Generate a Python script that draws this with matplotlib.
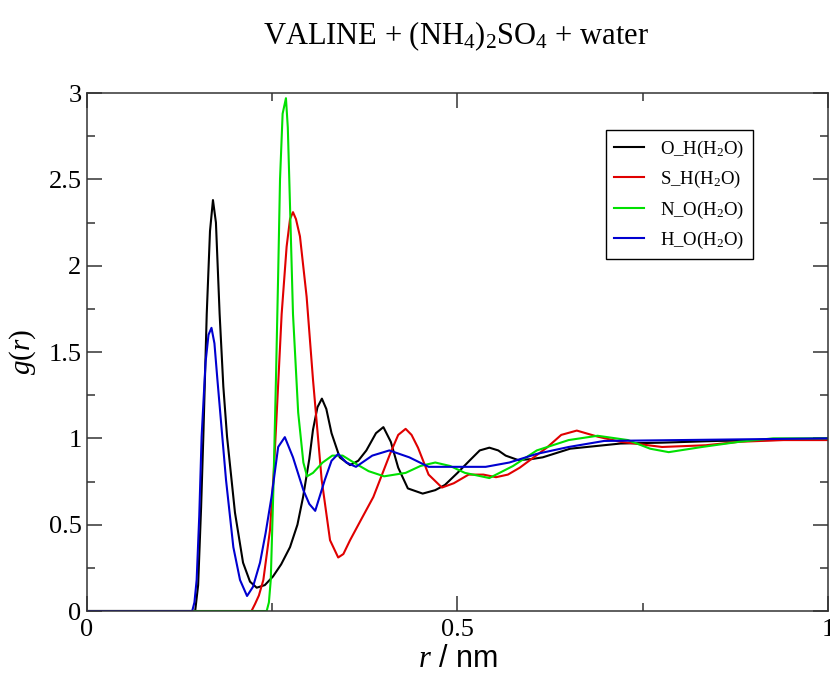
import matplotlib
matplotlib.use('Agg')
import matplotlib.pyplot as plt

plt.rcParams['font.family'] = ['Liberation Serif', 'DejaVu Serif']
plt.rcParams['mathtext.fontset'] = 'custom'
plt.rcParams['mathtext.rm'] = 'Liberation Serif'
plt.rcParams['mathtext.it'] = 'Liberation Serif:italic'

# values
r_oh = [0, 0.146, 0.150, 0.154, 0.157, 0.1616, 0.166, 0.170, 0.174, 0.179, 0.184, 0.189,
        0.1997, 0.2106, 0.220, 0.229, 0.240, 0.251, 0.262, 0.274, 0.284, 0.2916, 0.300,
        0.305, 0.311, 0.317, 0.323, 0.330, 0.341, 0.355, 0.366, 0.377, 0.390, 0.400,
        0.410, 0.420, 0.433, 0.453, 0.470, 0.483, 0.500, 0.516, 0.530, 0.543, 0.555,
        0.565, 0.582, 0.600, 0.615, 0.652, 0.720, 0.776, 0.850, 0.920, 1.0]
g_oh = [0, 0, 0.15, 0.6, 1.01, 1.72, 2.2, 2.38, 2.25, 1.72, 1.3, 1.01,
        0.57, 0.28, 0.17, 0.135, 0.15, 0.20, 0.27, 0.37, 0.5, 0.66, 0.88,
        1.05, 1.18, 1.23, 1.17, 1.03, 0.89, 0.845, 0.87, 0.93, 1.03, 1.065,
        0.98, 0.83, 0.71, 0.68, 0.70, 0.73, 0.80, 0.87, 0.93, 0.946, 0.93,
        0.90, 0.874, 0.88, 0.89, 0.94, 0.97, 0.975, 0.985, 0.99, 0.995]

r_sh = [0, 0.222, 0.2267, 0.232, 0.238, 0.247, 0.252, 0.256, 0.2627, 0.2694, 0.274,
        0.278, 0.282, 0.2874, 0.2964, 0.305, 0.3167, 0.328, 0.339, 0.346, 0.355, 0.370,
        0.3864, 0.409, 0.420, 0.430, 0.438, 0.4467, 0.461, 0.479, 0.495, 0.515, 0.535,
        0.552, 0.568, 0.584, 0.6205, 0.640, 0.661, 0.689, 0.72, 0.776, 0.835, 0.88,
        0.94, 1.0]
g_sh = [0, 0, 0.04, 0.09, 0.18, 0.47, 0.8, 1.14, 1.72, 2.11, 2.27,
        2.31, 2.27, 2.17, 1.82, 1.34, 0.76, 0.41, 0.31, 0.33, 0.41, 0.53,
        0.66, 0.91, 1.02, 1.055, 1.02, 0.946, 0.79, 0.715, 0.74, 0.79, 0.79,
        0.775, 0.79, 0.83, 0.946, 1.02, 1.045, 1.01, 0.98, 0.95, 0.96, 0.98,
        0.99, 0.99]

r_no = [0, 0.2425, 0.2455, 0.248, 0.2515, 0.255, 0.258, 0.2605, 0.264, 0.2685, 0.271,
        0.273, 0.278, 0.285, 0.292, 0.297, 0.305, 0.318, 0.331, 0.345, 0.36, 0.38,
        0.401, 0.43, 0.45, 0.47, 0.49, 0.51, 0.543, 0.575, 0.607, 0.65, 0.689, 0.73,
        0.76, 0.785, 0.83, 0.88, 0.926, 1.0]
g_no = [0, 0, 0.05, 0.18, 0.7, 1.34, 1.95, 2.5, 2.88, 2.97, 2.8,
        2.5, 1.72, 1.15, 0.86, 0.78, 0.80, 0.86, 0.90, 0.90, 0.86, 0.81,
        0.78, 0.80, 0.84, 0.86, 0.84, 0.80, 0.77, 0.84, 0.93, 0.99, 1.015, 0.99,
        0.94, 0.92, 0.95, 0.98, 1.0, 1.0]

r_ho = [0, 0.142, 0.145, 0.148, 0.1515, 0.1547, 0.160, 0.164, 0.168, 0.172, 0.176,
        0.1876, 0.1975, 0.2065, 0.216, 0.224, 0.2335, 0.241, 0.249, 0.258, 0.267,
        0.278, 0.292, 0.300, 0.308, 0.321, 0.330, 0.339, 0.350, 0.363, 0.385, 0.408,
        0.435, 0.461, 0.50, 0.538, 0.57, 0.607, 0.65, 0.698, 0.80, 1.0]
g_ho = [0, 0, 0.05, 0.18, 0.55, 1.01, 1.44, 1.6, 1.64, 1.55, 1.34,
        0.76, 0.37, 0.18, 0.087, 0.14, 0.28, 0.45, 0.66, 0.95, 1.007,
        0.89, 0.70, 0.62, 0.58, 0.76, 0.87, 0.91, 0.86, 0.835, 0.90, 0.93,
        0.89, 0.835, 0.835, 0.835, 0.86, 0.91, 0.95, 0.985, 0.99, 1.0]

labels = ['O_H(H$_2$O)', 'S_H(H$_2$O)', 'N_O(H$_2$O)', 'H_O(H$_2$O)']
colors = ['black', '#e00000', '#00e000', '#0000d0']

fig = plt.figure(figsize=(8.3, 6.75), dpi=100)
ax = fig.add_axes([0.1048, 0.0948, 0.8928, 0.7674])

ax.plot(r_oh, g_oh, color=colors[0], lw=1.5, label=labels[0])
ax.plot(r_sh, g_sh, color=colors[1], lw=1.5, label=labels[1])
ax.plot(r_no, g_no, color=colors[2], lw=1.5, label=labels[2])
ax.plot(r_ho, g_ho, color=colors[3], lw=1.5, label=labels[3])

ax.set_xlim(0, 1)
ax.set_ylim(0, 3)
ax.set_xticks([0, 0.5, 1])
ax.set_xticklabels(['0', '0.5', '1'])
ax.set_xticks([0.25, 0.75], minor=True)
ax.set_yticks([0, 0.5, 1, 1.5, 2, 2.5, 3])
ax.set_yticklabels(['0', '0.5', '1', '1.5', '2', '2.5', '3'])
ax.set_yticks([0.25, 0.75, 1.25, 1.75, 2.25, 2.75], minor=True)
ax.tick_params(which='both', direction='in', top=True, right=True,
               color='#333333', width=1.1, labelsize=19)
ax.tick_params(which='major', length=11)
ax.tick_params(which='minor', length=5.5)
ax.tick_params(axis='x', pad=6)
ax.tick_params(axis='y', pad=4)
for s in ax.spines.values():
    s.set_color('#333333')
    s.set_linewidth(1.1)

ax.set_xlabel('$r$ / nm', fontsize=22, family='Liberation Sans')
ax.xaxis.set_label_coords(0.5, -0.064)
ax.set_ylabel('$g(r)$', fontsize=21)
ax.yaxis.set_label_coords(-0.066, 0.5)

fig.text(0.55, 0.9348, 'VALINE + (NH$_4$)$_2$SO$_4$ + water', ha='center',
         va='baseline', fontsize=22)

leg = ax.legend(loc='upper left', bbox_to_anchor=(0.700, 0.9286), fontsize=13.5,
                frameon=True, fancybox=False, edgecolor='black', framealpha=1,
                handlelength=1.6, handletextpad=0.85, labelspacing=0.5,
                borderpad=0.45, borderaxespad=0)
leg.get_frame().set_linewidth(1.0)

fig.savefig('out.png', dpi=100)
